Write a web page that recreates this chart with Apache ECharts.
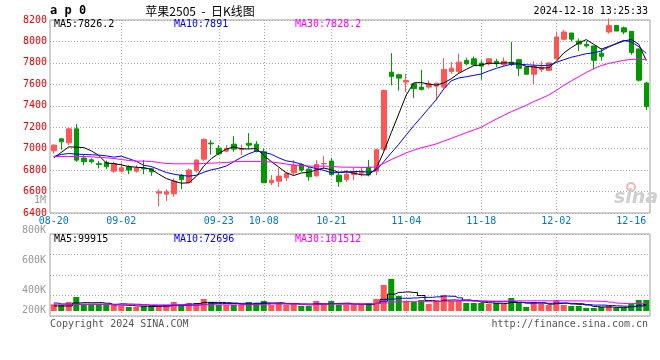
<!DOCTYPE html>
<html><head><meta charset="utf-8">
<script src="https://cdn.jsdelivr.net/npm/echarts@6/dist/echarts.min.js"></script>
<style>html,body{margin:0;padding:0;background:#fff}#c{width:660px;height:360px}</style>
</head><body><div id="c"></div>
<script>
const dates = ['08-20','08-21','08-22','08-23','08-26','08-27','08-28','08-29','08-30',
'09-02','09-03','09-04','09-05','09-06','09-09','09-10','09-11','09-12','09-13','09-18','09-19','09-20','09-23','09-24','09-25','09-26','09-27','09-30',
'10-08','10-09','10-10','10-11','10-14','10-15','10-16','10-17','10-18','10-21','10-22','10-23','10-24','10-25','10-28','10-29','10-30','10-31',
'11-01','11-04','11-05','11-06','11-07','11-08','11-11','11-12','11-13','11-14','11-15','11-18','11-19','11-20','11-21','11-22','11-25','11-26','11-27','11-28','11-29',
'12-02','12-03','12-04','12-05','12-06','12-09','12-10','12-11','12-12','12-13','12-16','12-17','12-18'];
const opens = [6980,7092,7055,7185,6912,6896,6860,6871,6790,6790,6831,6790,6818,6812,6585,6576,6579,6753,6685,6794,
6902,7052,7005,6977,7042,6993,7049,7042,6971,6682,6697,6728,6775,6853,6809,6747,6859,6884,6753,6713,
6759,6770,6828,6790,6995,7714,7689,7621,7605,7574,7574,7583,7574,7720,7720,7823,7838,7798,7792,7814,
7785,7806,7830,7761,7694,7739,7730,7839,8021,8079,8003,7973,7958,7891,8088,8148,8127,8094,7930,7612];
const closes = [7033,7064,7185,6893,6878,6878,6853,6831,6862,6822,6800,6818,6812,6784,6598,6598,6697,6713,6800,6893,
7086,7045,6952,7002,6996,7002,7033,6977,6682,6706,6744,6769,6846,6800,6738,6853,6862,6759,6691,6762,
6784,6785,6756,6990,7543,7674,7658,7636,7559,7552,7605,7611,7739,7751,7807,7792,7783,7770,7838,7792,
7815,7785,7749,7694,7770,7761,7800,8042,8088,8021,7976,7958,7824,7861,8148,8097,8088,7897,7639,7391];
const lows = [6955,6990,7033,6878,6846,6862,6815,6809,6775,6778,6762,6775,6762,6747,6464,6511,6551,6622,6685,6778,
6885,6946,6940,6965,6971,6940,7002,6965,6682,6660,6644,6697,6753,6784,6700,6738,6809,6747,6644,6691,
6706,6740,6741,6755,6975,7590,7543,7527,7472,7543,7559,7450,7559,7699,7705,7776,7776,7643,7776,7761,
7770,7770,7679,7694,7603,7715,7724,7839,8012,7997,7912,7942,7739,7821,8073,8097,8067,7876,7627,7361];
const highs = [7040,7092,7195,7229,6940,6909,6884,6890,6877,6871,6846,6846,6893,6822,6620,6620,6722,6766,6815,6902,
7095,7080,7033,7033,7117,7039,7145,7070,7002,6753,6822,6784,6893,6862,6831,6893,6930,6915,6778,6800,
6822,6830,6896,6999,7550,7891,7699,7699,7605,7736,7636,7611,7845,7807,7885,7848,7860,7823,7838,7838,
7851,7997,7839,7761,7815,7815,7806,8094,8109,8079,8027,8003,7958,7936,8215,8154,8139,8094,7936,7624];
const volumes = [96000,86000,129000,200000,86000,86000,96000,86000,86000,72000,
57000,57000,72000,72000,72000,86000,129000,86000,114000,114000,
172000,129000,86000,86000,86000,86000,129000,114000,143000,86000,
114000,86000,100000,72000,72000,143000,100000,143000,86000,86000,
86000,86000,114000,172000,372000,458000,215000,143000,129000,157000,
100000,157000,229000,143000,143000,114000,114000,114000,100000,114000,
100000,186000,114000,57000,129000,100000,86000,157000,86000,72000,
72000,43000,43000,57000,72000,43000,43000,100000,157000,157000];
// leading moving-average values (windows reaching before the first visible day)
const ma5Lead = [6915,6965,7017,7014];
const ma10Lead = [6927,6946,6955,6949,6946,6943,6940,6933,6921];
const ma30Lead = [6927,6927,6927,6927,6927,6924,6918,6915,6909,6899,6890,6884,6884,6881,6871,6862,6859,6859,6859,6859,6862,6865,6868,6871,6878,6881,6881,6881,6878];
const volMa5Lead = [72000,72000,72000,114000];
const volMa10Lead = [114000,100000,96000,96000,96000,96000,96000,96000,96000];
const volMa30Lead = [96000,96000,96000,96000,96000,96000,96000,96000,88000,88000,88000,88000,88000,88000,88000,88000,88000,88000,88000,88000,88000,88000,88000,88000,88000,88000,88000,88000,88000];
const xLabelDates = ['08-20','09-02','09-23','10-08','10-21','11-04','11-18','12-02','12-16'];
const xGridDates = ['09-02','09-23','10-08','10-21','11-04','11-18','12-02'];
const volTickLabels = ['1M','800K','600K','400K','200K'];
const priceHeader = ['MA5:7826.2','MA10:7891','MA30:7828.2'];
const volHeader = ['MA5:99915','MA10:72696','MA30:101512'];
const titleCode = 'a p 0';
const titleText = '苹果2505  -  日K线图';
const stamp = '2024-12-18 13:25:33';

function movingAverage(vals, n, lead) {
  return vals.map((v, i) => {
    if (i < n - 1) return lead[i];
    let s = 0;
    for (let k = i - n + 1; k <= i; k++) s += vals[k];
    return +(s / n).toFixed(1);
  });
}

const UP = '#ff5555', DOWN = '#009900';
const MONO = '"DejaVu Sans Mono", "Liberation Mono", monospace';
const kData = dates.map((d, i) => [opens[i], closes[i], lows[i], highs[i]]);
const volData = volumes.map((v, i) => ({ value: v, itemStyle: { color: closes[i] >= opens[i] ? UP : DOWN } }));
const gridLineStyle = { color: '#a8a8a8', type: [1, 2], width: 1 };
const showLabel = (i, v) => xLabelDates.indexOf(v) >= 0;
const showGrid = (i, v) => xGridDates.indexOf(v) >= 0;

function txt(text, x, y, color, align, font, z) {
  return { type: 'text', silent: true, z: z || 50, style: { text, x, y, fill: color, font: font || ('10px ' + MONO),
    align: align || 'left', verticalAlign: 'middle', textAlign: align || 'left', textVerticalAlign: 'middle' } };
}

const graphics = [
  txt(titleCode, 50, 11, '#000', 'left', 'bold 12px ' + MONO),
  txt(titleText, 200, 11, '#000', 'center', '12px "Noto Sans CJK SC", sans-serif'),
  txt(stamp, 648, 11, '#000', 'right'),
  txt(priceHeader[0], 54, 24, '#000'),
  txt(priceHeader[1], 174, 24, '#0000ee'),
  txt(priceHeader[2], 295, 24, '#ff00ff'),
  txt(volHeader[0], 54, 239, '#000'),
  txt(volHeader[1], 174, 239, '#0000ee'),
  txt(volHeader[2], 295, 239, '#ff00ff'),
  txt('Copyright 2024 SINA.COM', 50, 324, '#555'),
  txt('http://finance.sina.com.cn', 648, 324, '#555', 'right'),
  { type: 'circle', silent: true, z: 1, shape: { cx: 631, cy: 187, r: 4 }, style: { fill: 'none', stroke: '#f2b8b8', lineWidth: 2 } },
  txt('sina', 636, 198, '#cfcfcf', 'center', 'italic bold 19px "DejaVu Sans", sans-serif', 1)
];
const volLabelY = [200, 230, 260.5, 290.5, 310.5];
volTickLabels.forEach((t, i) => graphics.push(txt(t, 46, volLabelY[i], '#999', 'right')));

const option = {
  animation: false,
  backgroundColor: '#fff',
  grid: [
    { left: 50, top: 20, width: 600, height: 193, show: true, borderColor: '#a0a0a0', borderWidth: 1 },
    { left: 50, top: 234, width: 600, height: 82, show: true, borderColor: '#a0a0a0', borderWidth: 1 }
  ],
  xAxis: [
    { type: 'category', gridIndex: 0, data: dates, boundaryGap: true,
      axisLine: { show: false }, axisTick: { show: false },
      axisLabel: { interval: showLabel, color: '#0078c8', fontFamily: MONO, fontSize: 10, margin: 3 },
      splitLine: { show: true, interval: showGrid, alignWithLabel: true, lineStyle: gridLineStyle } },
    { type: 'category', gridIndex: 1, data: dates, boundaryGap: true,
      axisLine: { show: false }, axisTick: { show: false }, axisLabel: { show: false },
      splitLine: { show: true, interval: showGrid, alignWithLabel: true, lineStyle: gridLineStyle } }
  ],
  yAxis: [
    { type: 'value', gridIndex: 0, min: 6400, max: 8200, interval: 200, scale: true,
      axisLine: { show: false }, axisTick: { show: false },
      axisLabel: { color: '#ee0000', fontFamily: MONO, fontSize: 10, margin: 3, padding: [0, 0, 4, 0],
        formatter: v => String(v) },
      splitLine: { show: true, lineStyle: gridLineStyle } },
    { type: 'value', gridIndex: 1, min: 0, max: 4, interval: 1,
      axisLine: { show: false }, axisTick: { show: false }, axisLabel: { show: false },
      splitLine: { show: true, lineStyle: gridLineStyle } },
    { type: 'value', gridIndex: 1, min: -71500, max: 1100000, show: false, splitLine: { show: false } }
  ],
  series: [
    { type: 'candlestick', xAxisIndex: 0, yAxisIndex: 0, data: kData, barWidth: 5,
      itemStyle: { color: UP, color0: DOWN, borderColor: UP, borderColor0: DOWN, borderWidth: 1 } },
    { type: 'line', xAxisIndex: 0, yAxisIndex: 0, data: movingAverage(closes, 5, ma5Lead), symbol: 'none',
      lineStyle: { color: '#000', width: 1 }, z: 3 },
    { type: 'line', xAxisIndex: 0, yAxisIndex: 0, data: movingAverage(closes, 10, ma10Lead), symbol: 'none',
      lineStyle: { color: '#0000ff', width: 1 }, z: 3 },
    { type: 'line', xAxisIndex: 0, yAxisIndex: 0, data: movingAverage(closes, 30, ma30Lead), symbol: 'none',
      lineStyle: { color: '#ff00ff', width: 1 }, z: 3 },
    { type: 'bar', xAxisIndex: 1, yAxisIndex: 2, data: volData, barWidth: 6 },
    { type: 'line', xAxisIndex: 1, yAxisIndex: 2, data: movingAverage(volumes, 5, volMa5Lead), symbol: 'none', step: 'middle',
      lineStyle: { color: '#000', width: 1 }, z: 3 },
    { type: 'line', xAxisIndex: 1, yAxisIndex: 2, data: movingAverage(volumes, 10, volMa10Lead), symbol: 'none', step: 'middle',
      lineStyle: { color: '#0000ff', width: 1 }, z: 3 },
    { type: 'line', xAxisIndex: 1, yAxisIndex: 2, data: movingAverage(volumes, 30, volMa30Lead), symbol: 'none', step: 'middle',
      lineStyle: { color: '#ff00ff', width: 1 }, z: 3 }
  ],
  graphic: graphics
};
const chart = echarts.init(document.getElementById('c'), null, { renderer: 'canvas' });
chart.setOption(option);
</script></body></html>
